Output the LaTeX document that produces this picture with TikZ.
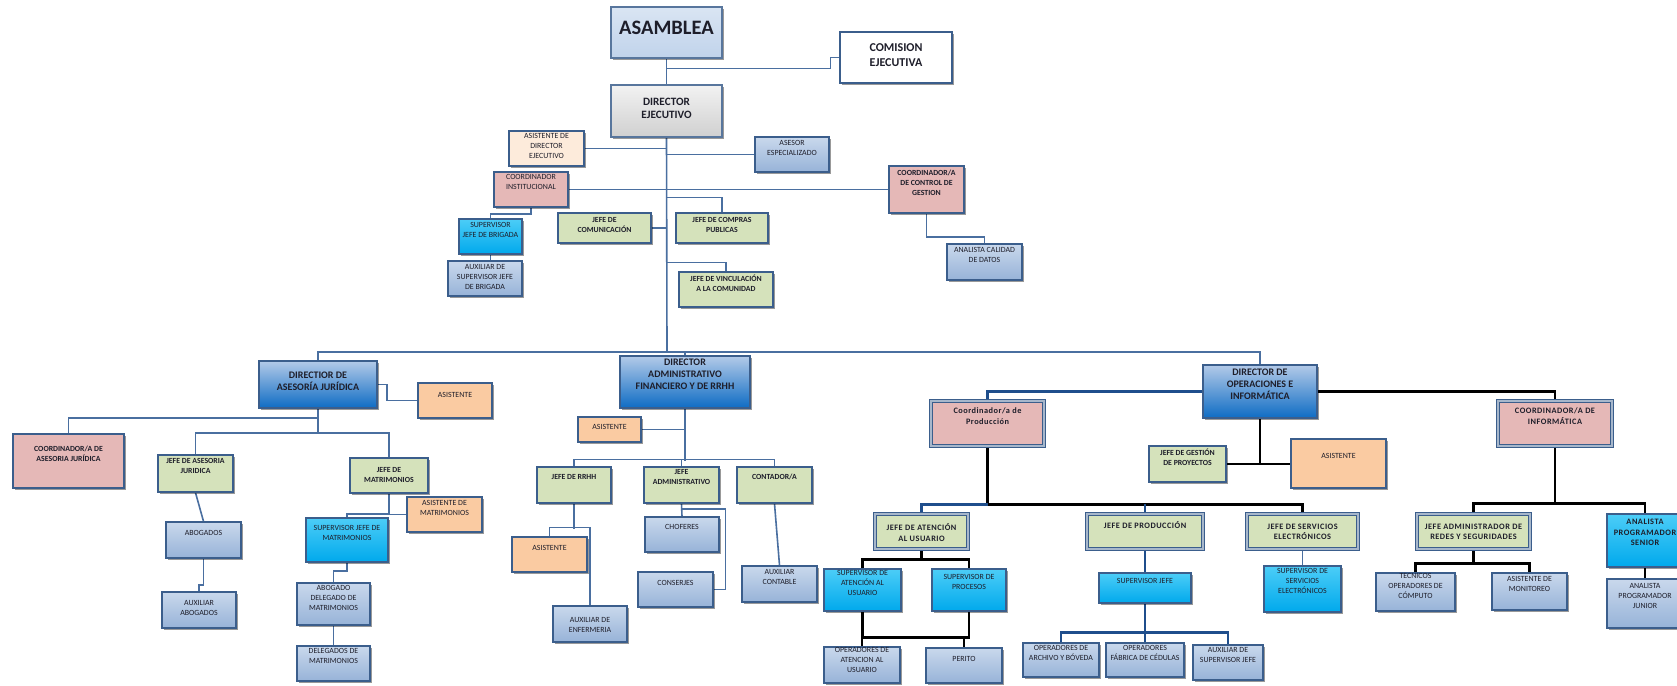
\documentclass[tikz,border=0pt]{standalone}
\usepackage{fontspec}
\setmainfont{Carlito}
\newfontfamily\spbf[LetterSpace=6]{Carlito}
\usetikzlibrary{shadows,backgrounds}
\definecolor{bdr}{HTML}{3B5E8C}
\definecolor{lnk}{HTML}{4A6FA0}
\definecolor{dkb}{HTML}{1F4E8C}
\definecolor{bgt}{HTML}{C9D8EC}
\definecolor{bgb}{HTML}{97B3D8}
\definecolor{cyt}{HTML}{4CCDF7}
\definecolor{cyb}{HTML}{00A9EC}
\definecolor{dbt}{HTML}{B3CAE8}
\definecolor{dbb}{HTML}{0E6CC4}
\definecolor{grn}{HTML}{D5E2BB}
\definecolor{pnk}{HTML}{E5B8B7}
\definecolor{pch}{HTML}{FACBA2}
\definecolor{lpc}{HTML}{FDEBDB}
\definecolor{gyt}{HTML}{F2F2F2}
\definecolor{gyb}{HTML}{D0D0D0}
\definecolor{ast}{HTML}{DAE5F3}
\definecolor{asb}{HTML}{C0D3EB}
\definecolor{txc}{HTML}{1E1E2A}
\tikzset{
  box/.style={draw=bdr, line width=1.4pt, inner sep=0pt,
    drop shadow={shadow xshift=2.2pt, shadow yshift=-2.2pt, fill=black, opacity=.4}},
  bg/.style={box, top color=bgt, bottom color=bgb},
  cy/.style={box, top color=cyt, bottom color=cyb},
  cyd/.style={cy, line width=2.2pt},
  gr/.style={box, fill=grn},
  grd/.style={box, fill=grn, line width=0.9pt, double=bdr!45!white, double distance=1.4pt},
  pk/.style={box, fill=pnk},
  pkd/.style={box, fill=pnk, line width=0.9pt, double=bdr!45!white, double distance=1.4pt},
  pc/.style={box, fill=pch},
  lp/.style={box, fill=lpc},
  db/.style={box, top color=dbt, bottom color=dbb, line width=1.9pt},
  gy/.style={box, top color=gyt, bottom color=gyb, line width=2.4pt, draw=bdr!85!white},
  asm/.style={box, top color=ast, bottom color=asb, line width=2.6pt, draw=bdr!85!white},
  wt/.style={box, fill=white, line width=2pt},
  txt/.style={align=center, inner sep=0pt, text=txc},
  ts/.style={txt, font=\fontsize{7.9}{10}\selectfont},
  tb/.style={txt, font=\fontsize{7.8}{10}\selectfont\bfseries},
  tw/.style={txt, font=\fontsize{8.3}{10.5}\selectfont\spbf\bfseries},
  tl/.style={txt, font=\fontsize{10}{12}\selectfont\bfseries},
  tc/.style={txt, font=\fontsize{12}{15}\selectfont\bfseries},
  td/.style={txt, font=\fontsize{11.2}{12.7}\selectfont\bfseries},
  ta/.style={txt, font=\fontsize{20.5}{22}\selectfont\bfseries},
  ln/.style={draw=lnk, line width=1.6pt},
  bk/.style={draw=black, line width=2.6pt},
  dk/.style={draw=dkb, line width=2.6pt},
}
% box style, text style, name, x1, y1, x2, y2, text offset, text
\newcommand\orgbox[9]{%
  \node[#1, minimum width={#6-#4}, minimum height={#7-#5}] (#3) at ({(#4+#6)/2},{(#5+#7)/2}) {};
  \node[#2, anchor=north, yshift=-#8pt] (#3t) at (#3.north) {#9};}
\begin{document}
\begin{tikzpicture}[x=1pt,y=-1pt]
\useasboundingbox (0,0) rectangle (1677,685);
\orgbox{asm}{ta}{asam}{611}{7}{722}{58}{15}{ASAMBLEA}
\orgbox{wt}{tc}{comi}{840}{32}{952}{83}{12}{COMISION\\EJECUTIVA}
\orgbox{gy}{td}{dire}{611}{85}{722}{137}{14}{DIRECTOR\\EJECUTIVO}
\orgbox{lp}{ts}{asde}{509}{131}{584}{166}{3}{ASISTENTE DE\\DIRECTOR\\EJECUTIVO}
\orgbox{bg}{ts}{ases}{755}{137}{829}{172}{4}{ASESOR\\ESPECIALIZADO}
\orgbox{pk}{ts}{coin}{494}{172}{568}{207}{3}{COORDINADOR\\INSTITUCIONAL}
\orgbox{pk}{tb}{coge}{889}{166}{964}{213}{5}{COORDINADOR/A\\DE CONTROL DE\\GESTION}
\orgbox{cy}{ts}{supb}{459}{219}{522}{254}{4}{SUPERVISOR\\JEFE DE BRIGADA}
\orgbox{bg}{ts}{auxb}{448}{261}{522}{296}{4}{AUXILIAR DE\\SUPERVISOR JEFE\\DE BRIGADA}
\orgbox{gr}{tb}{jcom}{558}{213}{651}{243}{5}{JEFE DE\\COMUNICACIÓN}
\orgbox{gr}{tb}{jcpu}{676}{213}{768}{243}{5}{JEFE DE COMPRAS\\PUBLICAS}
\orgbox{gr}{tb}{jvin}{679}{272}{773}{307}{3}{JEFE DE VINCULACIÓN\\A LA COMUNIDAD}
\orgbox{bg}{ts}{anac}{947}{244}{1022}{280}{4}{ANALISTA CALIDAD\\DE DATOS}
\orgbox{db}{tl}{djur}{259}{361}{377}{408}{12}{DIRECTIOR DE\\ASESORÍA JURÍDICA}
\orgbox{pc}{ts}{asju}{418}{383}{492}{418}{10}{ASISTENTE}
\orgbox{db}{tl}{daf}{620}{356}{750}{408}{4}{DIRECTOR\\ADMINISTRATIVO\\FINANCIERO Y DE RRHH}
\orgbox{pc}{ts}{asdf}{578}{417}{641}{442}{8}{ASISTENTE}
\orgbox{db}{tl}{dope}{1203}{365}{1317}{418}{5}{DIRECTOR DE\\OPERACIONES E\\INFORMÁTICA}
\orgbox{pkd}{tw}{cpro}{931}{401}{1044}{446}{7}{Coordinador/a de\\Producción}
\orgbox{pkd}{tw}{cinf}{1498}{401}{1612}{446}{7}{COORDINADOR/A DE\\INFORMÁTICA}
\orgbox{pc}{ts}{asop}{1291}{439}{1386}{488}{15}{ASISTENTE}
\orgbox{gr}{tb}{jgpr}{1149}{446}{1226}{482}{3}{JEFE DE GESTIÓN\\DE PROYECTOS}
\orgbox{pk}{tb}{cjur}{13}{434}{124}{488}{13}{COORDINADOR/A DE\\ASESORIA JURÍDICA}
\orgbox{gr}{tb}{jasj}{158}{455}{233}{492}{4}{JEFE DE ASESORIA\\JURIDICA}
\orgbox{gr}{tb}{jmat}{350}{458}{428}{493}{10}{JEFE DE\\MATRIMONIOS}
\orgbox{pc}{ts}{asma}{407}{497}{482}{532}{4}{ASISTENTE DE\\MATRIMONIOS}
\orgbox{cyd}{ts}{sjma}{306}{518}{388}{562}{8}{SUPERVISOR JEFE DE\\MATRIMONIOS}
\orgbox{bg}{ts}{abog}{166}{522}{241}{558}{9}{ABOGADOS}
\orgbox{bg}{ts}{auab}{162}{592}{236}{628}{9}{AUXILIAR\\ABOGADOS}
\orgbox{bg}{ts}{abdm}{297}{583}{370}{625}{3}{ABOGADO\\DELEGADO DE\\MATRIMONIOS}
\orgbox{bg}{ts}{dema}{297}{646}{370}{681}{3}{DELEGADOS DE\\MATRIMONIOS}
\orgbox{gr}{tb}{jrrh}{537}{467}{611}{503}{8}{JEFE DE RRHH}
\orgbox{gr}{tb}{jadm}{644}{467}{719}{503}{3}{JEFE\\ADMINISTRATIVO}
\orgbox{gr}{tb}{cont}{737}{467}{812}{503}{8}{CONTADOR/A}
\orgbox{pc}{ts}{asrh}{512}{537}{587}{572}{9}{ASISTENTE}
\orgbox{bg}{ts}{auen}{553}{606}{627}{642}{12}{AUXILIAR DE\\ENFERMERIA}
\orgbox{bg}{ts}{chof}{645}{517}{719}{552}{8}{CHOFERES}
\orgbox{bg}{ts}{cons}{638}{572}{713}{607}{9}{CONSERJES}
\orgbox{bg}{ts}{auco}{742}{566}{817}{602}{4}{AUXILIAR\\CONTABLE}
\orgbox{grd}{tw}{jatu}{875}{514}{968}{549}{10}{JEFE DE ATENCIÓN\\AL USUARIO}
\orgbox{grd}{tw}{jpro}{1087}{514}{1203}{549}{8}{JEFE DE PRODUCCIÓN}
\orgbox{grd}{tw}{jser}{1247}{514}{1358}{549}{10}{JEFE DE SERVICIOS\\ELECTRÓNICOS}
\orgbox{cy}{ts}{saus}{824}{569}{901}{611}{2}{SUPERVISOR DE\\ATENCIÓN AL\\USUARIO}
\orgbox{cy}{ts}{spro}{932}{569}{1006}{611}{6}{SUPERVISOR DE\\PROCESOS}
\orgbox{bg}{ts}{opau}{824}{647}{900}{683}{1}{OPERADORES DE\\ATENCION AL\\USUARIO}
\orgbox{bg}{ts}{peri}{926}{648}{1002}{683}{9}{PERITO}
\orgbox{cyd}{ts}{suje}{1099}{573}{1191}{603}{6}{SUPERVISOR JEFE}
\orgbox{bg}{ts}{opar}{1023}{643}{1099}{677}{3}{OPERADORES DE\\ARCHIVO Y BÓVEDA}
\orgbox{bg}{ts}{opfa}{1106}{643}{1184}{677}{3}{OPERADORES\\FÁBRICA DE CÉDULAS}
\orgbox{bg}{ts}{ausj}{1193}{645}{1263}{680}{3}{AUXILIAR DE\\SUPERVISOR JEFE}
\orgbox{cy}{ts}{sser}{1264}{566}{1341}{612}{3}{SUPERVISOR DE\\SERVICIOS\\ELECTRÓNICOS}
\orgbox{grd}{tw}{jred}{1417}{514}{1530}{549}{10}{JEFE ADMINISTRADOR DE\\REDES Y SEGURIDADES}
\orgbox{cy}{tw}{apse}{1607}{514}{1683}{567}{6}{ANALISTA\\PROGRAMADOR\\SENIOR}
\orgbox{bg}{ts}{apju}{1607}{579}{1683}{628}{5}{ANALISTA\\PROGRAMADOR\\JUNIOR}
\orgbox{bg}{ts}{tecn}{1376}{573}{1455}{611}{1}{TECNICOS\\OPERADORES DE\\CÓMPUTO}
\orgbox{bg}{ts}{asmo}{1492}{573}{1567}{610}{4}{ASISTENTE DE\\MONITOREO}
\coordinate (bus) at (667,352);
\begin{pgfonlayer}{background}
\fill[white] (0,0) rectangle (1677,685);
% top part
\draw[ln] (asam.south) -- (dire.north);
\draw[ln] (asam.south) ++(0,9) -- ++(164,0) |- (comi.west);
\draw[ln] (dire.south) -- (bus);
\draw[ln] (djur.north) |- (bus) -| (dope.north);
\draw[ln] (daf.north) -- (daf.north |- bus);
\draw[ln] (asde.east) -- (asde.east -| dire.south);
\draw[ln] (ases.west) -- (ases.west -| dire.south);
\draw[ln] (coin.east) -- (coge.west);
\draw[ln] (coin.south) -- ++(0,6) -| (supb.north);
\draw[ln] (jcom.east) -- (jcom.east -| dire.south);
\draw[ln] (jcpu.north) -- ++(0,-15) -| (dire.south);
\draw[ln] (jvin.north) -- ++(0,-9) -| (dire.south);
\draw[ln] (supb.south) -- (supb.south |- auxb.north);
\draw[ln] (coge.south) -- ++(0,23) -| (anac.north);
% juridica
\draw[ln] (djur.east) -- ++(9,0) |- (asju.west);
\draw[ln] (djur.south) -- ++(0,9) -| (cjur.north);
\draw[ln] (djur.south) -- ++(0,24) -| (jasj.north);
\draw[ln] (djur.south) ++(0,24) -| (jmat.north);
\draw[ln] (jasj.south) -- (abog.north);
\draw[ln] (abog.south) -- ++(0,26) -| (auab.north);
\draw[ln] (jmat.south) |- (asma.west);
\draw[ln] (jmat.south) -- ++(0,20) -| (sjma.north);
\draw[ln] (sjma.south) -- ++(0,8) -| (abdm.north);
\draw[ln] (abdm.south) -- (dema.north);
% administrativo
\draw[ln] (daf.south) -- ++(0,52);
\draw[ln] (asdf.east) -- (asdf.east -| daf.south);
\draw[ln] (jrrh.north) -- ++(0,-7) -| (cont.north);
\draw[ln] (jadm.north) -- ++(0,-7);
\draw[ln] (jrrh.south) -- ++(0,25);
\draw[ln] (asrh.north) -- ++(0,-9) -| (auen.north);
\draw[ln] (jadm.south) -- (chof.north);
\draw[ln] (jadm.south) ++(0,5) -- ++(44,0) |- (cons.east);
\draw[ln] (cont.south) -- (auco.north);
% operaciones
\draw[dk] (dope.west) -| (cpro.north);
\draw[bk] (dope.east) -| (cinf.north);
\draw[bk] (dope.south) |- (jgpr.east);
\draw[bk] (asop.west |- jgpr.east) -- (jgpr.east -| dope.south);
\path (cpro.south) ++(0,58) coordinate (pb);
\draw[bk] (cpro.south) -- (pb) -| (jser.north);
\draw[dk] (jatu.north) |- (pb);
\draw[dk] (jpro.north) -- (jpro.north |- pb);
\draw[bk] (jatu.south) -- ++(0,11);
\draw[bk] (saus.north) -- ++(0,-9) -| (spro.north);
\draw[bk] (saus.south) -- ++(0,26) -| (spro.south);
\draw[bk] (opau.north) -- ++(0,-10);
\draw[bk] (peri.north) -- ++(0,-11);
\draw[dk] (jpro.south) -- (suje.north);
\draw[dk] (suje.south) -- ++(0,30);
\draw[dk] (opar.north) -- ++(0,-10) -| (ausj.north);
\draw[dk] (opfa.north) -- ++(0,-10);
\draw[ln] (jser.south) -- (sser.north);
\draw[bk] (cinf.south) -- ++(0,58);
\draw[bk] (jred.north) -- ++(0,-10) -| (apse.north);
\draw[bk] (jred.south) -- ++(0,15);
\draw[bk] (tecn.north) -- ++(0,-9) -| (asmo.north);
\draw[bk] (apse.south) -- (apju.north);
\end{pgfonlayer}
\end{tikzpicture}
\end{document}
